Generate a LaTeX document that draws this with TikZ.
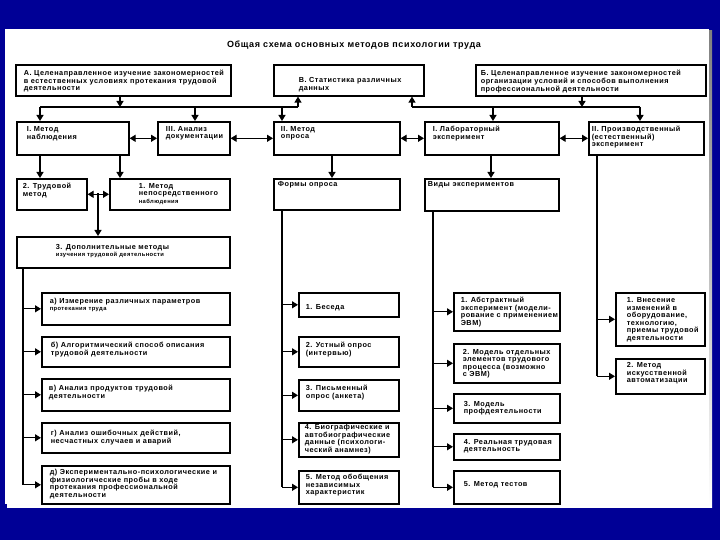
\documentclass[tikz,border=0pt]{standalone}
\usepackage{fontspec}
\setmainfont{Liberation Sans}[LetterSpace=7]
\usetikzlibrary{arrows.meta}
\definecolor{bgblue}{RGB}{0,0,150}
\definecolor{shade}{RGB}{255,255,225}
\tikzset{
  box/.style={draw, line width=1.6pt, inner sep=0pt, anchor=north west, fill=white,
    font=\fontsize{7.3}{7.4}\selectfont\bfseries},
  arr/.style={line width=1.2pt, -{Triangle[length=6pt,width=7pt]}},
  darr/.style={line width=1.2pt, {Triangle[length=6pt,width=7pt]}-{Triangle[length=6pt,width=7pt]}},
  ln/.style={line width=1.2pt},
  titlest/.style={font=\fontsize{9}{10}\selectfont\bfseries},
}
% name, x, y, w, h, dx, dy, text
\newcommand\bx[8]{\node[box] (#1) at (#2,#3) {\parbox[c][#5pt][t]{#4pt}{\vspace*{#7pt}\hspace*{#6pt}\begin{tabular}[t]{@{}l@{}}#8\end{tabular}}};}
\newcommand\sm[1]{{\fontsize{5.8}{6}\selectfont #1}}
\begin{document}
\begin{tikzpicture}[x=1pt,y=-1pt]
\useasboundingbox (0,0) rectangle (720,540);
\fill[bgblue] (0,0) rectangle (720,540);
\fill[shade] (7,31) rectangle (712,507);
\fill[white] (5,29) rectangle (709,504);

\node[titlest] (title) at (354,45) {Общая схема основных методов психологии труда};

% top row
\bx{A}{15}{64}{215}{31}{8}{5.5}{А. Целенаправленное изучение закономерностей\\в естественных условиях протекания трудовой\\деятельности}
\bx{V}{273}{64}{150}{31}{25}{13}{В. Статистика различных\\данных}
\bx{B}{475}{64}{230}{31}{5}{5.5}{Б. Целенаправленное изучение закономерностей\\организации условий и способов выполнения\\профессиональной деятельности}

% second row
\bx{m1}{16}{121}{112}{33}{10}{4.5}{I. Метод\\наблюдения}
\bx{m3}{157}{121}{72}{33}{8}{4.5}{III. Анализ\\документации}
\bx{m2}{273}{121}{126}{33}{7}{4.5}{II. Метод\\опроса}
\bx{lab}{424}{121}{134}{33}{8}{4.5}{I. Лабораторный\\эксперимент}
\bx{prz}{588}{121}{115}{33}{3}{4.5}{II. Производственный\\(естественный)\\эксперимент}

% third row
\bx{trud}{16}{178}{70}{31}{6}{4.5}{2. Трудовой\\метод}
\bx{nep}{109}{178}{120}{31}{29}{4.5}{1. Метод\\непосредственного\\\sm{наблюдения}}
\bx{forms}{273}{178}{126}{31}{4}{2.5}{Формы опроса}
\bx{vid}{424}{178}{134}{32}{3}{2.5}{Виды экспериментов}
\bx{d3}{16}{236}{213}{31}{39}{7.5}{3. Дополнительные методы\\\sm{изучения трудовой деятельности}}

% left column
\bx{sa}{41}{292}{188}{32}{8}{5.5}{а) Измерение различных параметров\\\sm{протекания труда}}
\bx{sb}{41}{336}{188}{30}{9}{5.5}{б) Алгоритмический способ описания\\трудовой деятельности}
\bx{sv}{41}{378}{188}{32}{7}{6.5}{в) Анализ продуктов трудовой\\деятельности}
\bx{sg}{41}{422}{188}{30}{9}{7.5}{г) Анализ ошибочных действий,\\несчастных случаев и аварий}
\bx{sd}{41}{465}{188}{38}{8}{3.5}{д) Экспериментально-психологические и\\физиологические пробы в ходе\\протекания профессиональной\\деятельности}

% survey column
\bx{o1}{298}{292}{100}{24}{7}{11.5}{1. Беседа}
\bx{o2}{298}{336}{100}{30}{7}{5.5}{2. Устный опрос\\(интервью)}
\bx{o3}{298}{379}{100}{31}{7}{5.5}{3. Письменный\\опрос (анкета)}
\bx{o4}{298}{422}{100}{34}{6}{1.5}{4. Биографические и\\автобиографические\\данные (психологи-\\ческий анамнез)}
\bx{o5}{298}{470}{100}{33}{7}{3.5}{5. Метод обобщения\\независимых\\характеристик}

% experiment column
\bx{e1}{453}{292}{106}{38}{7}{4.5}{1. Абстрактный\\эксперимент (модели-\\рование с применением\\ЭВМ)}
\bx{e2}{453}{343}{106}{39}{9}{5.5}{2. Модель отдельных\\элементов трудового\\процесса (возможно\\с ЭВМ)}
\bx{e3}{453}{393}{106}{29}{10}{7.5}{3. Модель\\профдеятельности}
\bx{e4}{453}{433}{106}{26}{10}{5.5}{4. Реальная трудовая\\деятельность}
\bx{e5}{453}{470}{106}{33}{10}{10.5}{5. Метод тестов}

% production column
\bx{p1}{615}{292}{89}{53}{11}{4.5}{1. Внесение\\изменений в\\оборудование,\\технологию,\\приемы трудовой\\деятельности}
\bx{p2}{615}{358}{89}{35}{11}{3.5}{2. Метод\\искусственной\\автоматизации}

% buses
\coordinate (L1) at (40,107);
\coordinate (L2) at (120,107);
\coordinate (L3) at (195,107);
\coordinate (L4) at (282,107);
\coordinate (L5) at (298,107);
\coordinate (R1) at (412,107);
\coordinate (R2) at (493,107);
\coordinate (R3) at (582,107);
\coordinate (R4) at (640,107);
\draw[arr] (A.south -| L2) -- (L2);
\draw[ln] (L1) -- (L5);
\draw[arr] (L1) -- (L1 |- m1.north);
\draw[arr] (L3) -- (L3 |- m3.north);
\draw[arr] (L4) -- (L4 |- m2.north);
\draw[arr] (L5) -- (L5 |- V.south);
\draw[arr] (B.south -| R3) -- (R3);
\draw[ln] (R1) -- (R4);
\draw[arr] (R1) -- (R1 |- V.south);
\draw[arr] (R2) -- (R2 |- lab.north);
\draw[arr] (R4) -- (R4 |- prz.north);

% second row links
\draw[darr] (m1.east) -- (m3.west);
\draw[darr] (m3.east) -- (m2.west);
\draw[darr] (m2.east) -- (lab.west);
\draw[darr] (lab.east) -- (prz.west);

% to third row
\draw[arr] (m1.south -| L1) -- (trud.north -| L1);
\draw[arr] (m1.south -| L2) -- (nep.north -| L2);
\draw[darr] (trud.east) -- (nep.west);
\coordinate (J) at (98,193.5);
\draw[arr] (J) -- (J |- d3.north);
\coordinate (K1) at (332,160);
\draw[arr] (m2.south -| K1) -- (K1 |- forms.north);
\coordinate (K2) at (491,160);
\draw[arr] (lab.south -| K2) -- (K2 |- vid.north);

% trunks
\coordinate (T1) at (23,270);
\coordinate (T2) at (282,212);
\coordinate (T3) at (433,212);
\coordinate (T4) at (597,156);
\draw[ln] (d3.south -| T1) -- (T1 |- sd.west);
\foreach \b in {sa,sb,sv,sg,sd} \draw[arr] (T1 |- \b.west) -- (\b.west);
\draw[ln] (forms.south -| T2) -- (T2 |- o5.west);
\foreach \b in {o1,o2,o3,o4,o5} \draw[arr] (T2 |- \b.west) -- (\b.west);
\draw[ln] (vid.south -| T3) -- (T3 |- e5.west);
\foreach \b in {e1,e2,e3,e4,e5} \draw[arr] (T3 |- \b.west) -- (\b.west);
\draw[ln] (prz.south -| T4) -- (T4 |- p2.west);
\foreach \b in {p1,p2} \draw[arr] (T4 |- \b.west) -- (\b.west);
\end{tikzpicture}
\end{document}
